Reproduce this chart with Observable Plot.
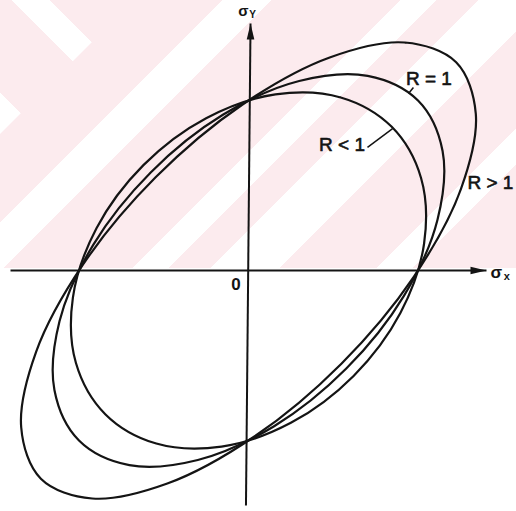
<!DOCTYPE html>
<html>
<head>
<meta charset="utf-8">
<script src="https://cdn.jsdelivr.net/npm/d3@7"></script>
<script src="https://cdn.jsdelivr.net/npm/@observablehq/plot@0.6"></script>
<style>
  html, body { margin: 0; padding: 0; background: #fff; overflow: hidden; }
  #wrap { position: relative; width: 516px; height: 511px; }
  /* faint diagonal tint behind the upper half */
  #tint {
    position: absolute; left: 0; top: 0; width: 516px; height: 268px;
    background: linear-gradient(135deg,
      #fcebee 0 157px, #fff 157px 192px,
      #fcebee 192px 283px, #fff 283px 309px,
      #fcebee 309px 338px, #fff 338px 387px,
      #fcebee 387px 456px, #fff 456px 481px,
      #fcebee 481px);
  }
  #tint2 {
    position: absolute; left: 0; top: 0; width: 134px; height: 134px;
    clip-path: polygon(0 0, 134px 0, 0 134px);
    background: linear-gradient(45deg,
      #fff 0 29px, transparent 29px 103px,
      #fff 103px 130px, transparent 130px);
  }
  #chart { position: absolute; left: 0; top: 0; }
</style>
</head>
<body>
<div id="wrap"><div id="tint"></div><div id="tint2"></div><div id="chart"></div></div>
<script>
// Yield loci in the (σx, σy) plane for three anisotropy ratios R.
// Each locus is given by points on its outline, in units of the uniaxial yield stress.
const lociNames = ["R > 1", "R = 1", "R < 1"];

const sxRgt1 = [1.225, 0.922, 0.479, -0.037, -0.548, -0.975, -1.253, -1.341, -1.225, -0.922, -0.479, 0.037, 0.548, 0.975, 1.253, 1.341];
const syRgt1 = [1.225, 1.341, 1.253, 0.975, 0.548, 0.037, -0.479, -0.922, -1.225, -1.341, -1.253, -0.975, -0.548, -0.037, 0.479, 0.922];

const sxReq1 = [1.000, 0.703, 0.299, -0.151, -0.577, -0.916, -1.115, -1.145, -1.000, -0.703, -0.299, 0.151, 0.577, 0.916, 1.115, 1.145];
const syReq1 = [1.000, 1.145, 1.115, 0.916, 0.577, 0.151, -0.299, -0.703, -1.000, -1.145, -1.115, -0.916, -0.577, -0.151, 0.299, 0.703];

const sxRlt1 = [0.845, 0.544, 0.159, -0.250, -0.620, -0.896, -1.036, -1.018, -0.845, -0.544, -0.159, 0.250, 0.620, 0.896, 1.036, 1.018];
const syRlt1 = [0.845, 1.018, 1.036, 0.896, 0.620, 0.250, -0.159, -0.544, -0.845, -1.018, -1.036, -0.896, -0.620, -0.250, 0.159, 0.544];

// Coordinate axes (start and end of each arrow)
const axisX1 = [-1.404, -0.015];
const axisY1 = [0, -1.382];
const axisX2 = [1.404, 0.012];
const axisY2 = [0, 1.453];

// Curve labels and their leader lines
const labelText = ["R = 1", "R < 1", "R > 1"];
const labelX = [0.929, 0.416, 1.292];
const labelY = [1.126, 0.738, 0.515];
const leaderX1 = [0.973, 0.702];
const leaderY1 = [1.076, 0.724];
const leaderX2 = [0.944, 0.850];
const leaderY2 = [1.041, 0.835];

// Axis names: stress symbol plus subscript
const axisSymbol = ["σ", "σ"];
const axisSymbolX = [1.462, -0.0295];
const axisSymbolY = [-0.0147, 1.5265];
const axisSub = ["x", "Y"];
const axisSubX = [1.524, 0.0236];
const axisSubY = [-0.0324, 1.507];
const originLabel = ["0"];
const originX = [-0.0737];
const originY = [-0.0824];

const loci = [
  {name: lociNames[0], sx: sxRgt1, sy: syRgt1},
  {name: lociNames[1], sx: sxReq1, sy: syReq1},
  {name: lociNames[2], sx: sxRlt1, sy: syRlt1}
];
const outline = loci.flatMap(l => l.sx.map((x, i) => ({name: l.name, x, y: l.sy[i]})));
const axes = axisX1.map((x1, i) => ({x1, y1: axisY1[i], x2: axisX2[i], y2: axisY2[i]}));
const leaders = leaderX1.map((x1, i) => ({x1, y1: leaderY1[i], x2: leaderX2[i], y2: leaderY2[i]}));
const labels = labelText.map((text, i) => ({text, x: labelX[i], y: labelY[i]}));
const symbols = axisSymbol.map((text, i) => ({text, x: axisSymbolX[i], y: axisSymbolY[i], size: i === 0 ? 17 : 15}));
const subs = axisSub.map((text, i) => ({text, x: axisSubX[i], y: axisSubY[i], size: i === 0 ? 11 : 10}));
const origin = originLabel.map((text, i) => ({text, x: originX[i], y: originY[i]}));

// Solid, narrow arrowheads with the tip at the data point
const headRight = {draw(ctx) { ctx.moveTo(0, 0); ctx.lineTo(-16, -3.8); ctx.lineTo(-16, 3.8); ctx.closePath(); }};
const headUp = {draw(ctx) { ctx.moveTo(0, 0); ctx.lineTo(3.8, 16); ctx.lineTo(-3.8, 16); ctx.closePath(); }};

const ink = "#141414";

const chart = Plot.plot({
  width: 516,
  height: 511,
  margin: 0,
  x: {domain: [-1.4631, 1.5811], axis: null},
  y: {domain: [-1.4176, 1.5882], axis: null},
  style: {background: "transparent", fontFamily: "'Liberation Sans', Arial, sans-serif", color: ink},
  marks: [
    Plot.link(axes, {x1: "x1", y1: "y1", x2: "x2", y2: "y2", stroke: ink, strokeWidth: 2}),
    Plot.dot(axes.slice(0, 1), {x: "x2", y: "y2", symbol: headRight, fill: ink, stroke: "none"}),
    Plot.dot(axes.slice(1, 2), {x: "x2", y: "y2", symbol: headUp, fill: ink, stroke: "none"}),
    Plot.line(outline, {x: "x", y: "y", z: "name", curve: "catmull-rom-closed", stroke: ink, strokeWidth: 2.2}),
    Plot.link(leaders, {x1: "x1", y1: "y1", x2: "x2", y2: "y2", stroke: ink, strokeWidth: 1.5}),
    Plot.text(labels, {x: "x", y: "y", text: "text", textAnchor: "start", fontSize: 19, fill: ink, stroke: ink, strokeWidth: 0.6}),
    Plot.text(symbols, {x: "x", y: "y", text: "text", fontSize: "size", fontWeight: "bold", fill: ink}),
    Plot.text(subs, {x: "x", y: "y", text: "text", fontSize: "size", fontWeight: "bold", fill: ink}),
    Plot.text(origin, {x: "x", y: "y", text: "text", fontSize: 17, fontWeight: "bold", fill: ink})
  ]
});
document.getElementById("chart").appendChild(chart);
</script>
</body>
</html>
